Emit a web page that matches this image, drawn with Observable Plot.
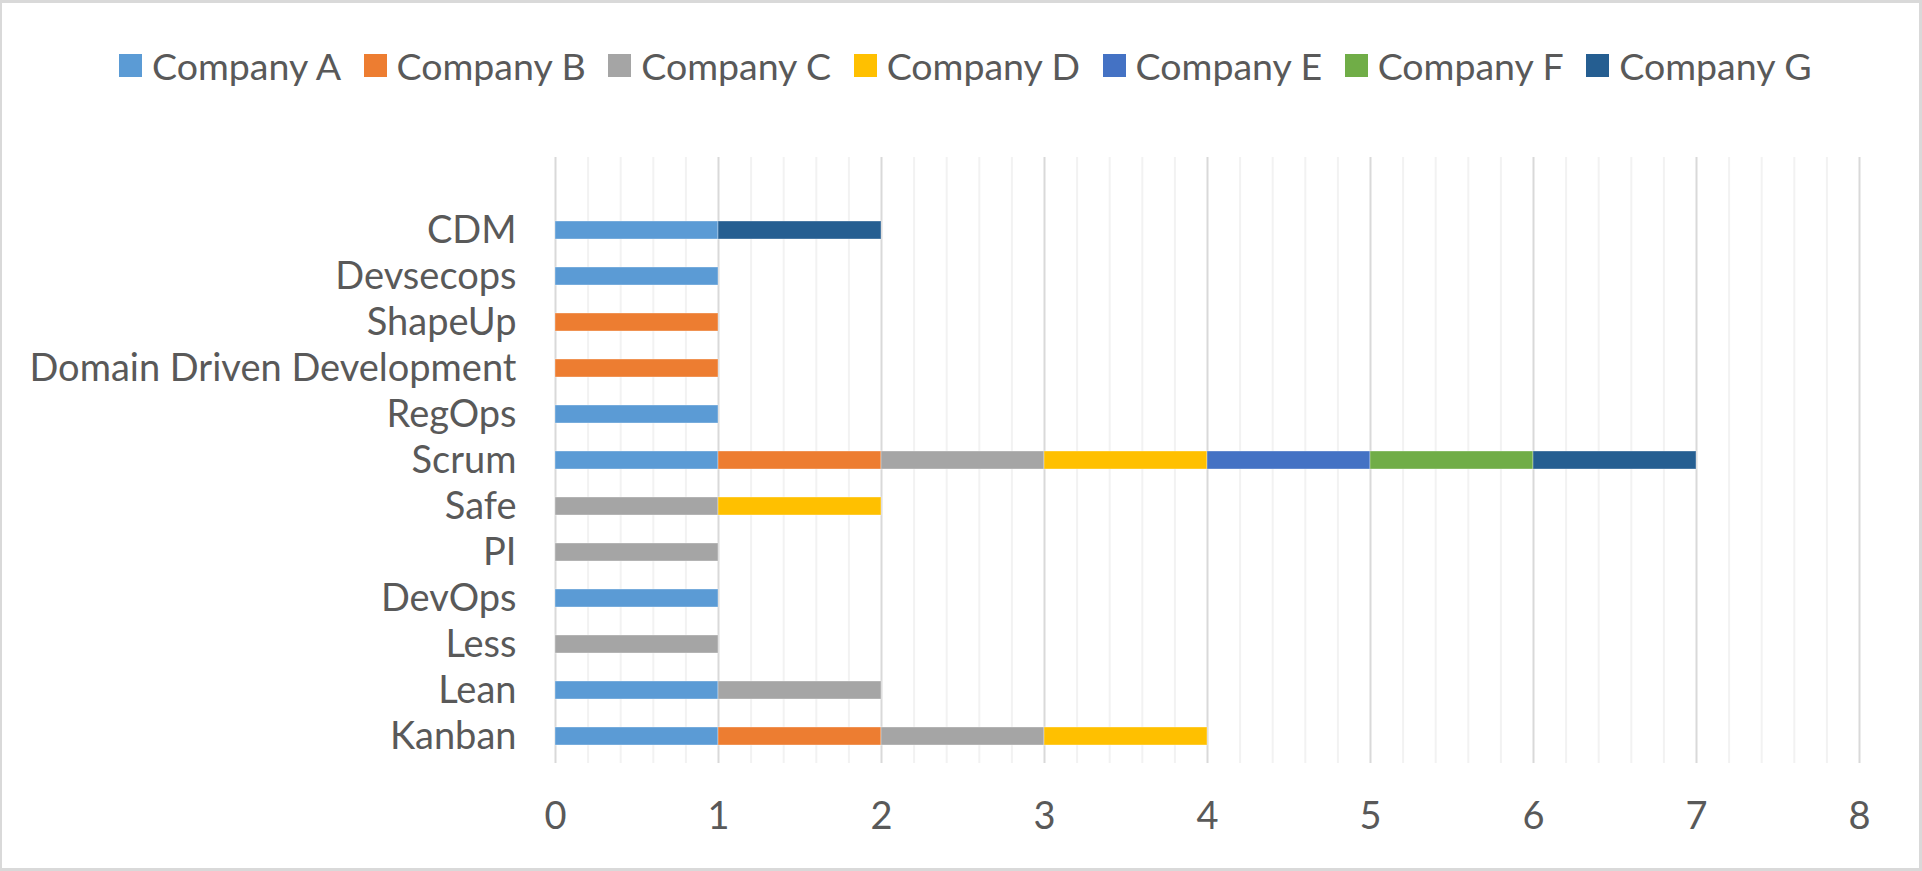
<!DOCTYPE html>
<html>
<head>
<meta charset="utf-8">
<script src="https://cdn.jsdelivr.net/npm/d3@7"></script>
<script src="https://cdn.jsdelivr.net/npm/@observablehq/plot@0.6"></script>
<style>
  html, body { margin: 0; padding: 0; background: #fff; }
  #wrap { position: relative; width: 1922px; height: 871px; overflow: hidden; background: #fff; }
  #frame { position: absolute; inset: 0; box-sizing: border-box; border: 3px solid #d9d9d9; border-left-width: 2px; pointer-events: none; z-index: 3; }
  #chart { position: absolute; left: 0; top: 0; }
  #legend { position: absolute; left: 119px; top: 43px; width: 1780px; z-index: 2; }
  #legend > div { display: flex; justify-content: flex-start; align-items: center; margin: 0; font-family: Lato, sans-serif; font-size: 37.5px; color: #595959; }
  #legend span { display: inline-flex; align-items: center; margin-right: 22.5px; }
  #legend span svg { margin-right: 10px; }
</style>
</head>
<body>
<div id="wrap">
  <div id="chart"></div>
  <div id="legend"></div>
  <div id="frame"></div>
</div>
<script>
// Categories, top to bottom (a blank slot sits above CDM in the original)
const methods = ["CDM", "Devsecops", "ShapeUp", "Domain Driven Development", "RegOps", "Scrum", "Safe", "PI", "DevOps", "Less", "Lean", "Kanban"];
const companies = ["Company A", "Company B", "Company C", "Company D", "Company E", "Company F", "Company G"];
const colors = ["#5B9BD5", "#ED7D31", "#A5A5A5", "#FFC000", "#4472C4", "#70AD47", "#255E91"];
// values per company, aligned with methods
const companyA = [1, 1, 0, 0, 1, 1, 0, 0, 1, 0, 1, 1];
const companyB = [0, 0, 1, 1, 0, 1, 0, 0, 0, 0, 0, 1];
const companyC = [0, 0, 0, 0, 0, 1, 1, 1, 0, 1, 1, 1];
const companyD = [0, 0, 0, 0, 0, 1, 1, 0, 0, 0, 0, 1];
const companyE = [0, 0, 0, 0, 0, 1, 0, 0, 0, 0, 0, 0];
const companyF = [0, 0, 0, 0, 0, 1, 0, 0, 0, 0, 0, 0];
const companyG = [1, 0, 0, 0, 0, 1, 0, 0, 0, 0, 0, 0];
const xTicks = [0, 1, 2, 3, 4, 5, 6, 7, 8];

const series = [companyA, companyB, companyC, companyD, companyE, companyF, companyG];
const table = [];
methods.forEach((m, i) => {
  companies.forEach((c, j) => {
    if (series[j][i] > 0) table.push({method: m, company: c, value: series[j][i]});
  });
});

const minorTicks = d3.range(0, 40).map(k => k / 5).filter(v => v % 1 !== 0);

const plot = Plot.plot({
  width: 1922,
  height: 871,
  marginLeft: 555,
  marginRight: 63,
  marginTop: 157,
  marginBottom: 108,
  style: {fontFamily: "Lato, sans-serif", fontSize: "38px", color: "#595959", background: "transparent"},
  x: {domain: [0, 8]},
  y: {domain: [" ", ...methods], paddingInner: 0.6, paddingOuter: 0.3, label: null},
  color: {domain: companies, range: colors},
  marks: [
    Plot.ruleX(minorTicks, {stroke: "#f2f2f2", strokeWidth: 2}),
    Plot.ruleX(xTicks, {stroke: "#d9d9d9", strokeWidth: 2}),
    Plot.barX(table, Plot.stackX({y: "method", x: "value", fill: "company", stroke: "#ffffff", strokeOpacity: 0.35, strokeWidth: 1})),
    Plot.axisY({tickSize: 0, tickPadding: 39, label: null, fontSize: 38, tickFormat: d => d.trim()}),
    Plot.axisX({ticks: xTicks, tickSize: 0, tickPadding: 39, label: null, fontSize: 38, tickFormat: d3.format("d")})
  ]
});
document.getElementById("chart").appendChild(plot);
document.getElementById("legend").appendChild(plot.legend("color", {swatchSize: 23}));
</script>
</body>
</html>
